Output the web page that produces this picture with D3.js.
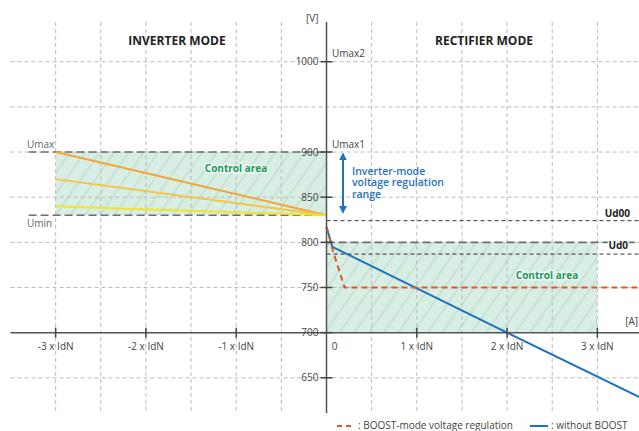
<!doctype html>
<html>
<head>
<style>
  body { margin: 0; background: #fff; }
  text { font-family: "Open Sans", "Noto Sans", sans-serif; }
</style>
</head>
<body>
    <div class="container"></div>

    <script src="https://cdn.jsdelivr.net/npm/d3@7/dist/d3.min.js"></script>

    <script>
        // values (x in multiples of IdN, y in volts)
        const xTicks = [-3, -2, -1, 0, 1, 2, 3];
        const xTickLabels = ['-3 x IdN', '-2 x IdN', '-1 x IdN', '0', '1 x IdN', '2 x IdN', '3 x IdN'];
        const xGrid = [-3, -2.5, -2, -1.5, -1, -0.5, 0.5, 1, 1.5, 2, 2.5, 3];
        const yTicks = [1000, 900, 850, 800, 750, 700, 650];
        const yGrid = [1000, 950, 900, 850, 800, 750, 650];

        const Umax = 900, Umin = 830, Ud00 = 824, Ud0 = 787;
        const inverterStarts = [900, 870, 840];   // at -3 x IdN, all meet Umin at 0
        const inverterColors = ['#f5a43a', '#f6c443', '#f1e42c'];

        const boostLine = [[0, 817], [0.07, 791], [0.2, 750], [3.5, 750]];
        const noBoostLine = [[0, 817], [0.065, 795], [2, 700], [3.5, 627]];

        const W = 639, H = 431;
        const x = d3.scaleLinear().domain([-3.5, 3.5]).range([10.5, 642.5]);
        const y = d3.scaleLinear().domain([611, 1044]).range([413, 22]);

        const svg = d3.select('.container').append('svg')
            .attr('width', W).attr('height', H);

        // hatch for the control areas
        const pat = svg.append('defs').append('pattern')
            .attr('id', 'hatch').attr('patternUnits', 'userSpaceOnUse')
            .attr('width', 12).attr('height', 12)
            .attr('patternTransform', 'rotate(35)');
        pat.append('rect').attr('width', 12).attr('height', 12).attr('fill', '#d8ede3');
        pat.append('line').attr('x1', 1).attr('y1', 0).attr('x2', 1).attr('y2', 12)
            .attr('stroke', '#b3dbc6').attr('stroke-width', 1);

        // control areas
        svg.append('rect')
            .attr('x', x(-3)).attr('y', y(Umax))
            .attr('width', x(0) - x(-3)).attr('height', y(Umin) - y(Umax))
            .attr('fill', 'url(#hatch)');
        svg.append('rect')
            .attr('x', x(0)).attr('y', y(800))
            .attr('width', x(3) - x(0)).attr('height', y(700) - y(800))
            .attr('fill', 'url(#hatch)');

        // grid
        svg.selectAll('.gx').data(xGrid).enter().append('line')
            .attr('x1', d => x(d)).attr('x2', d => x(d))
            .attr('y1', 22).attr('y2', 413)
            .attr('stroke', '#bbb').attr('stroke-dasharray', '4,3');
        svg.selectAll('.gy').data(yGrid).enter().append('line')
            .attr('x1', 10.5).attr('x2', W)
            .attr('y1', d => y(d)).attr('y2', d => y(d))
            .attr('stroke', '#bbb').attr('stroke-dasharray', '4,3');

        // Umax / Umin / 800 long dashes
        const longDash = (x1, x2, v) => svg.append('line')
            .attr('x1', x1).attr('x2', x2).attr('y1', y(v)).attr('y2', y(v))
            .attr('stroke', '#6e6e6e').attr('stroke-width', 1.6).attr('stroke-dasharray', '8,4');
        longDash(x(-3.3), x(0), Umax);
        longDash(x(-3.3), x(0), Umin);
        longDash(x(0), W, 800);

        // Ud00 / Ud0 short dashes
        [Ud00, Ud0].forEach(v => svg.append('line')
            .attr('x1', x(0)).attr('x2', W).attr('y1', y(v)).attr('y2', y(v))
            .attr('stroke', '#333').attr('stroke-width', 1).attr('stroke-dasharray', '4,3'));

        // inverter-mode lines
        svg.selectAll('.inv').data(inverterStarts).enter().append('line')
            .attr('x1', x(-3)).attr('y1', d => y(d))
            .attr('x2', x(0)).attr('y2', y(Umin))
            .attr('stroke', (d, i) => inverterColors[i]).attr('stroke-width', 2);

        // rectifier curves
        const line = d3.line().x(d => x(d[0])).y(d => y(d[1]));
        svg.append('path').datum(noBoostLine).attr('d', line)
            .attr('fill', 'none').attr('stroke', '#1f72c0').attr('stroke-width', 2);
        svg.append('path').datum(boostLine).attr('d', line)
            .attr('fill', 'none').attr('stroke', '#e0582a').attr('stroke-width', 2)
            .attr('stroke-dasharray', '6,4');

        // axes
        const ax = svg.append('g').attr('transform', `translate(0,${y(700)})`);
        ax.append('line').attr('x1', 10.5).attr('x2', W)
            .attr('stroke', '#555').attr('stroke-width', 1.5);
        ax.selectAll('.xt').data(xTicks.filter(d => d !== 0)).enter().append('line')
            .attr('x1', d => x(d)).attr('x2', d => x(d)).attr('y1', -5).attr('y2', 5)
            .attr('stroke', '#444').attr('stroke-width', 1.5);
        ax.selectAll('.xl').data(xTicks).enter().append('text')
            .attr('x', (d, i) => d === 0 ? x(d) + 8 : x(d)).attr('y', 17)
            .attr('text-anchor', 'middle').attr('font-size', 10).attr('fill', '#444')
            .text((d, i) => xTickLabels[i]);
        ax.append('text').attr('x', 638).attr('y', -8).attr('text-anchor', 'end')
            .attr('font-size', 10).attr('fill', '#444').text('[A]');

        const ay = svg.append('g').attr('transform', `translate(${x(0)},0)`);
        ay.append('line').attr('y1', 22).attr('y2', 413)
            .attr('stroke', '#555').attr('stroke-width', 1.5);
        ay.selectAll('.yt').data(yTicks).enter().append('line')
            .attr('x1', -6).attr('x2', 6).attr('y1', d => y(d)).attr('y2', d => y(d))
            .attr('stroke', '#444').attr('stroke-width', 1.5);
        ay.selectAll('.yl').data(yTicks).enter().append('text')
            .attr('x', -8).attr('y', d => y(d)).attr('dy', '0.35em')
            .attr('text-anchor', 'end').attr('font-size', 10).attr('fill', '#444')
            .text(d => d);
        ay.append('text').attr('x', -8).attr('y', 22).attr('text-anchor', 'end')
            .attr('font-size', 10).attr('fill', '#444').text('[V]');

        // labels
        const label = (tx, ty, s, opts = {}) => svg.append('text')
            .attr('x', tx).attr('y', ty).attr('font-size', opts.size || 10)
            .attr('font-weight', opts.weight || 'normal')
            .attr('text-anchor', opts.anchor || 'start')
            .attr('fill', opts.fill || '#666').text(s);

        label(177, 45, 'INVERTER MODE', { size: 12, weight: 'bold', anchor: 'middle', fill: '#222' });
        label(484, 45, 'RECTIFIER MODE', { size: 12, weight: 'bold', anchor: 'middle', fill: '#222' });
        label(27, 148, 'Umax');
        label(27, 227, 'Umin');
        label(332, 57, 'Umax2', { fill: '#444' });
        label(332, 148, 'Umax1', { fill: '#444' });
        label(630, 217, 'Ud00', { anchor: 'end', weight: 'bold', fill: '#222' });
        label(628, 249, 'Ud0', { anchor: 'end', weight: 'bold', fill: '#222' })
            .attr('stroke', '#fff').attr('stroke-width', 3).attr('paint-order', 'stroke');

        [[236, 172], [547, 279]].forEach(p =>
            label(p[0], p[1], 'Control area', { anchor: 'middle', weight: 'bold', fill: '#1b9a5c' })
                .attr('stroke', '#eef7f2').attr('stroke-width', 3).attr('paint-order', 'stroke'));

        // inverter-mode regulation range arrow
        svg.append('defs').html(
            '<marker id="ah" viewBox="0 0 10 10" refX="8" refY="5" markerWidth="4" markerHeight="4" orient="auto-start-reverse">' +
            '<path d="M0,0L10,5L0,10z" fill="#1f72c0"/></marker>');
        svg.append('line').attr('x1', 343).attr('x2', 343)
            .attr('y1', y(Umax) + 2).attr('y2', y(Umin) - 3)
            .attr('stroke', '#1f72c0').attr('stroke-width', 2)
            .attr('marker-start', 'url(#ah)').attr('marker-end', 'url(#ah)');
        ['Inverter-mode', 'voltage regulation', 'range'].forEach((s, i) =>
            label(352, 174.5 + i * 11.5, s, { size: 10.5, weight: 600, fill: '#1f72c0' }));

        // legend
        svg.append('line').attr('x1', 337).attr('x2', 353).attr('y1', 426).attr('y2', 426)
            .attr('stroke', '#e0582a').attr('stroke-width', 2).attr('stroke-dasharray', '5,4');
        label(358, 429, ': BOOST-mode voltage regulation', { fill: '#444' });
        svg.append('line').attr('x1', 530).attr('x2', 548).attr('y1', 426).attr('y2', 426)
            .attr('stroke', '#1f72c0').attr('stroke-width', 2);
        label(551, 429, ': without BOOST', { fill: '#444' });
    </script>
</body>
</html>
